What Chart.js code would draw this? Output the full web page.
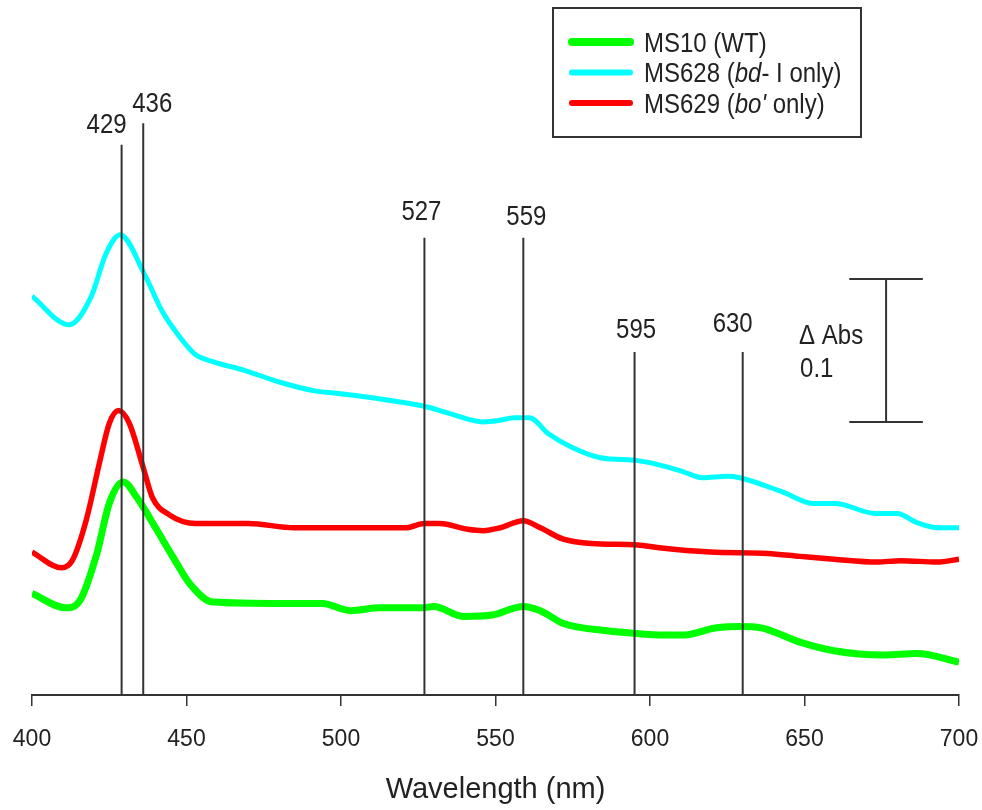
<!DOCTYPE html>
<html>
<head>
<meta charset="utf-8">
<title>Reduced minus oxidised difference spectra</title>
<script src="https://cdn.jsdelivr.net/npm/chart.js@4.4.1/dist/chart.umd.min.js"></script>
<style>
  html, body { margin: 0; padding: 0; background: #fff; }
  #wrap { width: 982px; height: 810px; }
</style>
</head>
<body>
<div id="wrap"><canvas id="spectra" width="982" height="810"></canvas></div>
<script>
// MS10 (WT) - wavelength (nm) / relative absorbance
const ms10Nm  = [400, 411, 415.5, 421, 425, 429.5, 434, 440, 445.5, 451, 458.5, 481, 494, 503, 512.5, 526.5, 530, 539.5, 549, 559, 564.5, 572, 586, 596, 604, 611, 621.5, 629, 636, 648.5, 659.5, 675.5, 686.5, 700];
const ms10Abs = [0.071, 0.061, 0.066, 0.099, 0.134, 0.149, 0.138, 0.117, 0.097, 0.078, 0.065, 0.064, 0.064, 0.059, 0.061, 0.061, 0.062, 0.055, 0.056, 0.062, 0.059, 0.050, 0.045, 0.043, 0.042, 0.042, 0.047, 0.048, 0.047, 0.037, 0.031, 0.028, 0.029, 0.023];

// MS628 (bd-I only)
const ms628Nm  = [400, 412, 419, 424, 428.5, 436.5, 442, 448, 453, 459, 469, 480, 491, 499, 510, 527, 535, 546, 551, 556, 561, 567, 575, 584, 596, 603, 611, 617, 625, 629, 643, 653, 660, 673, 680, 686, 693, 700];
const ms628Abs = [0.279, 0.259, 0.278, 0.309, 0.322, 0.294, 0.269, 0.250, 0.238, 0.233, 0.227, 0.219, 0.213, 0.211, 0.208, 0.202, 0.197, 0.191, 0.192, 0.194, 0.194, 0.183, 0.173, 0.166, 0.164, 0.161, 0.156, 0.152, 0.153, 0.152, 0.142, 0.134, 0.134, 0.127, 0.127, 0.121, 0.117, 0.117];

// MS629 (bo' only)
const ms629Nm  = [400, 409.5, 413, 417.5, 422, 425, 428, 431.5, 436, 439, 444.5, 453, 470, 485, 503, 521, 527, 532, 541, 546, 551.5, 559, 564.5, 572, 581, 596, 603, 619.5, 638, 648.5, 659.5, 673.5, 681, 693, 700];
const ms629Abs = [0.100, 0.089, 0.094, 0.122, 0.164, 0.190, 0.199, 0.190, 0.159, 0.138, 0.126, 0.120, 0.120, 0.117, 0.117, 0.117, 0.120, 0.120, 0.116, 0.115, 0.117, 0.122, 0.117, 0.109, 0.106, 0.105, 0.103, 0.100, 0.099, 0.097, 0.095, 0.093, 0.094, 0.093, 0.095];

// marked band positions and how high each marker line reaches
const bandNm  = [429, 436, 527, 559, 595, 630];
const bandTop = [0.385, 0.400, 0.320, 0.320, 0.240, 0.240];

// delta-Abs scale bar
const scaleBarNm = 676.4;
const scaleBarBase = 0.191;
const scaleBarSpan = 0.1;
const scaleBarCapNm = 11.9;

const xTicks = [400, 450, 500, 550, 600, 650, 700];

// label placement next to each band line (px): horizontal shift, gap above line top
const bandLabelDx  = [-15, 9, -3, 3, 1.5, -10];
const bandLabelGap = [12, 11, 18, 13, 14, 20];

const FONT = "'Liberation Sans', Arial, sans-serif";
const INK = '#222';
const TEXT_SY = 1.12;   // text in this figure is slightly tall

const toPoints = (xs, ys) => xs.map((x, i) => ({ x: x, y: ys[i] }));

const curve = (label, xs, ys, color, width) => ({
    label: label,
    data: toPoints(xs, ys),
    borderColor: color,
    backgroundColor: color,
    borderWidth: width,
    pointRadius: 0,
    cubicInterpolationMode: 'monotone',
    borderCapStyle: 'butt',
    borderJoinStyle: 'round',
    order: 2
});

const segment = (pts, width) => ({
    data: pts,
    borderColor: '#333',
    borderWidth: width,
    pointRadius: 0,
    tension: 0,
    order: 0
});

const datasets = [
    curve('MS10 (WT)', ms10Nm, ms10Abs, '#00ff00', 7),
    curve('MS628 (bd- I only)', ms628Nm, ms628Abs, '#00ffff', 5),
    curve("MS629 (bo' only)", ms629Nm, ms629Abs, '#ff0000', 5.5)
];

bandNm.forEach((nm, i) => {
    datasets.push(segment([{ x: nm, y: 0 }, { x: nm, y: bandTop[i] }], 2));
});

const barTop = scaleBarBase + scaleBarSpan;
datasets.push(segment([{ x: scaleBarNm, y: scaleBarBase }, { x: scaleBarNm, y: barTop }], 2));
datasets.push(segment([{ x: scaleBarNm - scaleBarCapNm, y: barTop }, { x: scaleBarNm + scaleBarCapNm, y: barTop }], 2));
datasets.push(segment([{ x: scaleBarNm - scaleBarCapNm, y: scaleBarBase }, { x: scaleBarNm + scaleBarCapNm, y: scaleBarBase }], 2));

// draws text runs (some italic) slightly stretched vertically, baseline at y
function tallText(ctx, runs, x, y, size, align) {
    ctx.save();
    ctx.fillStyle = INK;
    ctx.textBaseline = 'alphabetic';
    ctx.textAlign = 'left';
    let total = 0;
    runs.forEach(r => {
        ctx.font = (r.italic ? 'italic ' : '') + size + 'px ' + FONT;
        total += ctx.measureText(r.t).width;
    });
    let start = x;
    if (align === 'center') start = x - total / 2;
    ctx.translate(start, y);
    ctx.scale(1, TEXT_SY);
    let cx = 0;
    runs.forEach(r => {
        ctx.font = (r.italic ? 'italic ' : '') + size + 'px ' + FONT;
        ctx.fillText(r.t, cx, 0);
        cx += ctx.measureText(r.t).width;
    });
    ctx.restore();
}

const annotations = {
    id: 'annotations',
    afterDraw(chart) {
        const ctx = chart.ctx;
        const xs = chart.scales.x;
        const ys = chart.scales.y;

        // band labels
        bandNm.forEach((nm, i) => {
            const px = xs.getPixelForValue(nm) + bandLabelDx[i];
            const py = ys.getPixelForValue(bandTop[i]) - bandLabelGap[i];
            tallText(ctx, [{ t: String(nm) }], px, py, 24, 'center');
        });

        // scale bar caption
        const bx = xs.getPixelForValue(scaleBarNm);
        const by = ys.getPixelForValue(barTop);
        tallText(ctx, [{ t: '\u0394 Abs' }], bx - 87, by + 65, 24, 'left');
        tallText(ctx, [{ t: String(scaleBarSpan) }], bx - 86, by + 98, 24, 'left');

        // legend box
        ctx.save();
        ctx.strokeStyle = '#333';
        ctx.lineWidth = 2;
        ctx.strokeRect(553, 8, 308, 129);
        ctx.restore();

        const rows = [
            { ds: datasets[0], runs: [{ t: 'MS10 (WT)' }] },
            { ds: datasets[1], runs: [{ t: 'MS628 (' }, { t: 'bd', italic: true }, { t: '- I only)' }] },
            { ds: datasets[2], runs: [{ t: 'MS629 (' }, { t: "bo'", italic: true }, { t: ' only)' }] }
        ];
        rows.forEach((row, i) => {
            const ly = 42 + i * 30.5;
            ctx.save();
            ctx.strokeStyle = row.ds.borderColor;
            ctx.lineWidth = i === 0 ? 8 : 6;
            ctx.lineCap = 'round';
            ctx.beginPath();
            ctx.moveTo(572, ly);
            ctx.lineTo(630, ly);
            ctx.stroke();
            ctx.restore();
            tallText(ctx, row.runs, 644, ly + 9.6, 24, 'left');
        });
    }
};

new Chart(document.getElementById('spectra'), {
    type: 'line',
    data: { datasets: datasets },
    plugins: [annotations],
    options: {
        responsive: false,
        animation: false,
        devicePixelRatio: 1,
        layout: { padding: { left: 32, right: 23, top: 9, bottom: 0 } },
        plugins: {
            legend: { display: false },
            tooltip: { enabled: false }
        },
        scales: {
            x: {
                type: 'linear',
                min: 400,
                max: 700,
                afterBuildTicks(scale) {
                    scale.ticks = xTicks.map(v => ({ value: v }));
                },
                afterFit(scale) {
                    scale.height = 115;
                    scale.paddingLeft = 0;
                    scale.paddingRight = 0;
                },
                grid: {
                    drawOnChartArea: false,
                    drawTicks: true,
                    tickLength: 11,
                    color: '#333',
                    lineWidth: 1.5
                },
                border: { display: true, color: '#333', width: 2 },
                ticks: {
                    color: INK,
                    padding: 20,
                    maxRotation: 0,
                    font: { family: FONT, size: 23 }
                },
                title: {
                    display: true,
                    text: 'Wavelength (nm)',
                    color: INK,
                    padding: { top: 0, bottom: 3 },
                    font: { family: FONT, size: 29 }
                }
            },
            y: {
                type: 'linear',
                display: false,
                min: 0,
                max: 0.48
            }
        }
    }
});
</script>
</body>
</html>
